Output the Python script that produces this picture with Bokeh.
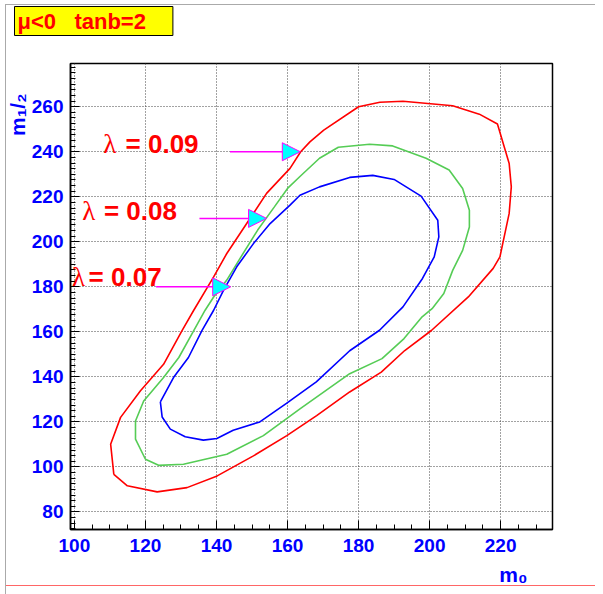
import numpy as np
from bokeh.plotting import figure
from bokeh.models import (Range1d, Arrow, NormalHead, Label, ColumnDataSource, Title,
                          SingleIntervalTicker)
from bokeh.embed import file_html
from bokeh.resources import INLINE

# ---- data ----
red_m0 = [111.1, 110.2, 113.0, 118.6, 125.1, 130.3, 133.6, 139.2, 142.9, 148.5, 154.1, 160.7,
          163.7, 166.3, 170.2, 180.0, 186.0, 192.5, 206.5, 214.0, 219.1, 222.4, 223.0, 222.4,
          219.8, 217.9, 210.9, 200.5, 193.0, 186.4, 177.5, 168.2, 159.8, 150.4, 140.2, 131.7,
          123.3, 114.9]
red_m12 = [96.7, 110.1, 122.0, 133.8, 145.6, 160.5, 169.6, 184.4, 194.8, 208.1, 221.5, 232.6,
           240.0, 244.4, 249.6, 260.0, 262.0, 262.4, 260.4, 256.7, 252.3, 234.8, 224.4, 212.6,
           193.3, 188.2, 175.5, 160.6, 151.7, 142.1, 133.3, 122.8, 113.9, 104.9, 96.0, 90.8,
           88.9, 91.6]

green_m0 = [120.0, 117.2, 117.2, 119.5, 125.1, 129.4, 133.6, 136.8, 139.2, 142.9, 146.9, 151.6,
            156.3, 160.0, 163.5, 169.0, 174.3, 183.1, 189.6, 199.0, 205.5, 209.3, 211.2, 211.2,
            209.3, 206.5, 204.0, 200.7, 197.9, 192.8, 186.6, 177.5, 163.5, 153.2, 142.9, 130.7,
            123.7]
green_m12 = [103.4, 112.3, 120.4, 129.3, 139.7, 148.6, 160.5, 169.6, 175.5, 183.0, 193.3, 205.2,
             215.5, 223.7, 229.0, 237.1, 242.0, 243.3, 242.6, 237.1, 231.9, 223.7, 214.0, 206.6,
             196.2, 187.3, 177.0, 170.3, 166.7, 157.0, 148.1, 141.4, 125.8, 113.9, 105.6, 101.2,
             100.7]

blue_m0 = [124.2, 124.7, 127.0, 131.2, 136.3, 140.1, 144.7, 152.2, 159.7, 168.1, 177.5, 185.9,
           192.5, 198.0, 201.3, 202.6, 202.3, 197.6, 190.0, 184.0, 177.5, 169.0, 163.5, 160.7,
           155.1, 150.4, 145.7, 142.0, 139.2, 135.9, 132.1, 127.9]
blue_m12 = [128.9, 122.2, 116.8, 113.4, 111.9, 112.6, 116.3, 120.0, 128.2, 137.8, 151.6, 160.7,
            171.1, 183.7, 193.3, 202.2, 209.6, 220.3, 227.7, 229.5, 228.6, 224.4, 220.7, 216.3,
            208.1, 199.2, 188.9, 178.5, 169.6, 160.5, 148.6, 139.7]

lambda_values = ["0.07", "0.08", "0.09"]
# arrow and label anchors (data coordinates)
arrow_x_start = [123.0, 135.2, 143.8]
arrow_x_end = [144.0, 154.1, 163.6]
arrow_y = [180.0, 210.4, 240.0]
lam_sym_x = [99.3, 102.2, 108.1]
eq_x = [104.0, 108.3, 114.4]
label_y = [184.3, 213.9, 243.5]

SANS = "Liberation Sans"
SERIF = "Liberation Serif"

p = figure(width=595, height=594, output_backend="svg", toolbar_location=None, title=None,
           x_range=Range1d(98.9, 234.6), y_range=Range1d(72.2, 279.2),
           min_border_left=70, min_border_right=43, min_border_top=63, min_border_bottom=65)
p.background_fill_color = "white"
p.border_fill_color = "white"
p.border_fill_alpha = 0
p.styles = {"box-shadow": "inset 5px 4px 0 0 #ffffff, inset 6px 5px 0 0 #aaaaaa, "
                          "inset 0 -8px 0 0 #ffffff, inset 0 -9px 0 0 #ff6666"}
p.outline_line_color = "black"
p.outline_line_width = 1.5

p.xaxis.ticker = SingleIntervalTicker(interval=20, num_minor_ticks=4)
p.yaxis.ticker = SingleIntervalTicker(interval=20, num_minor_ticks=8)

for ax in (p.xaxis[0], p.yaxis[0]):
    ax.axis_line_color = "black"
    ax.axis_line_width = 1.5
    ax.major_tick_in = 9
    ax.major_tick_out = 0
    ax.minor_tick_in = 5
    ax.minor_tick_out = 0
    ax.major_tick_line_color = "black"
    ax.minor_tick_line_color = "black"
    ax.major_label_text_font = SANS
    ax.major_label_text_font_style = "bold"
    ax.major_label_text_font_size = "19px"
    ax.major_label_text_color = "#0000ff"

p.xaxis.major_label_standoff = 9
p.yaxis.major_label_standoff = 7

p.grid.grid_line_color = "#444444"
p.grid.grid_line_dash = "1 2"
p.grid.grid_line_width = 1

# contours (closed)
for xs, ys, col in ((red_m0, red_m12, "#ff0000"),
                    (green_m0, green_m12, "#55cc55"),
                    (blue_m0, blue_m12, "#0000ff")):
    p.line(xs + xs[:1], ys + ys[:1], line_color=col, line_width=1.6)

# arrows
src = ColumnDataSource(dict(xs=arrow_x_start, xe=arrow_x_end, y=arrow_y))
p.add_layout(Arrow(end=NormalHead(size=18, fill_color="#00ffff", line_color="#ff00ff", line_width=1),
                   x_start="xs", y_start="y", x_end="xe", y_end="y", source=src,
                   line_color="#ff00ff", line_width=1.5))

# lambda labels
for lv, lx, ex, ly in zip(lambda_values, lam_sym_x, eq_x, label_y):
    p.add_layout(Label(x=lx, y=ly, text="λ", text_font=SERIF, text_font_size="27px",
                       text_color="#ff0000", text_baseline="middle", text_align="left"))
    p.add_layout(Label(x=ex, y=ly, text="= " + lv, text_font=SANS,
                       text_font_style="bold", text_font_size="26px",
                       text_color="#ff0000", text_baseline="middle", text_align="left"))

# spacer between frame and title box (white dot on white, effectively invisible)
p.add_layout(Title(text=".", text_color="#ffffff", text_font_size="8px", standoff=19), "above")
# title box
p.add_layout(Title(text="μ<0 \u00a0 tanb=2", align="left", offset=-56, standoff=0,
                   vertical_align="top",
                   text_font=SANS, text_font_style="bold", text_font_size="22px",
                   text_color="#ff0000", background_fill_color="#ffff00",
                   border_line_color="black", border_line_width=1,
                   padding=dict(left=3, right=27, top=2, bottom=2)), "above")

# axis titles
p.add_layout(Title(text="m₁/₂", align="right", offset=30, standoff=0,
                   text_font=SANS, text_font_style="bold", text_font_size="21px",
                   text_color="#0000ff"), "left")
p.add_layout(Title(text="m₀", align="right", offset=25, standoff=12,
                   text_font=SANS, text_font_style="bold", text_font_size="21px",
                   text_color="#0000ff"), "below")

open("out.html", "w").write(file_html(p, INLINE))
